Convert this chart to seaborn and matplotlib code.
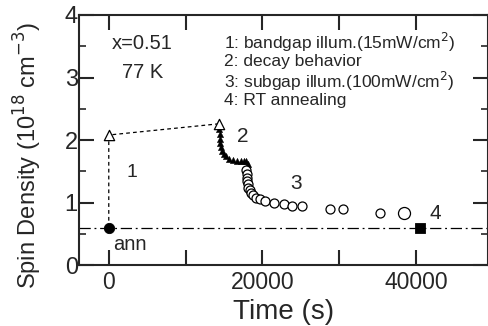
import numpy as np
import pandas as pd
import matplotlib
matplotlib.use("Agg")
import matplotlib.pyplot as plt
import seaborn as sns
from matplotlib.ticker import MultipleLocator, FixedLocator

sns.set_style("ticks")
plt.rcParams['font.family'] = ['Liberation Sans', 'DejaVu Sans']

# Data
ann_x, ann_y = [0], [0.6]
open_tri_x = [0, 14400]
open_tri_y = [2.08, 2.26]
decay_x = [14400, 14450, 14500, 14550, 14650, 14800, 15000, 15300, 15700, 16200, 16700, 17200, 17600, 17900, 18100]
decay_y = [2.18, 2.10, 2.02, 1.95, 1.89, 1.83, 1.78, 1.74, 1.70, 1.68, 1.67, 1.67, 1.67, 1.66, 1.62]
sub_x = [17900, 17950, 18000, 18050, 18100, 18200, 18350, 18550, 18800, 19200, 19700, 20300, 21500, 22800, 23900, 25200, 28800, 30500, 35300]
sub_y = [1.52, 1.45, 1.39, 1.34, 1.29, 1.24, 1.20, 1.16, 1.12, 1.08, 1.06, 1.03, 0.99, 0.97, 0.94, 0.94, 0.90, 0.89, 0.84]
big_x, big_y = [38400], [0.83]
rt_x, rt_y = [40500], [0.6]
baseline = 0.6

fig = plt.figure(figsize=(4.89, 3.26), dpi=100)
ax = fig.add_axes([0.162, 0.187, 0.836, 0.767])

# guide lines
ax.axhline(baseline, color='black', lw=0.9, ls=(0, (9, 3, 1.5, 3)), zorder=1)
ax.plot([ann_x[0], open_tri_x[0], open_tri_x[1]], [ann_y[0], open_tri_y[0], open_tri_y[1]],
        color='black', lw=0.9, ls=(0, (3, 2.5)), zorder=1)

sns.scatterplot(x=decay_x, y=decay_y, marker='^', s=20, color='black', edgecolor='black', ax=ax, zorder=3)
sns.scatterplot(x=sub_x, y=sub_y, marker='o', s=42, facecolor='white', edgecolor='black', linewidth=0.9, ax=ax, zorder=4)
sns.scatterplot(x=big_x, y=big_y, marker='o', s=75, facecolor='white', edgecolor='black', linewidth=0.9, ax=ax, zorder=4)
sns.scatterplot(x=open_tri_x, y=open_tri_y, marker='^', s=55, facecolor='white', edgecolor='black', linewidth=0.9, ax=ax, zorder=5)
sns.scatterplot(x=ann_x, y=ann_y, marker='o', s=55, color='black', edgecolor='black', ax=ax, zorder=5)
sns.scatterplot(x=rt_x, y=rt_y, marker='s', s=55, color='black', edgecolor='black', ax=ax, zorder=5)

ax.set_xlim(-3850, 49400)
ax.set_ylim(0, 4)
ax.xaxis.set_major_locator(FixedLocator([0, 10000, 20000, 30000, 40000]))
ax.set_xticklabels(['0', '', '20000', '', '40000'])
ax.yaxis.set_major_locator(MultipleLocator(1))
ax.yaxis.set_minor_locator(MultipleLocator(0.5))
ax.tick_params(axis='both', which='major', direction='in', length=11, width=1.5, pad=3,
               top=True, right=True)
ax.tick_params(axis='x', which='major', labelsize=16.5, pad=4)
ax.tick_params(axis='y', which='major', labelsize=17, pad=1)
ax.tick_params(axis='y', which='minor', direction='in', length=5, width=1.2, right=True)
for s in ax.spines.values():
    s.set_linewidth(1.5)

ax.set_xlabel('Time (s)', fontsize=20, labelpad=4)
ax.set_ylabel('Spin Density (10$^{18}$ cm$^{-3}$)', fontsize=17)
ax.yaxis.set_label_coords(-0.085, 0.44)

ax.text(4400, 3.55, 'x=0.51', fontsize=14.5, ha='center', va='center')
ax.text(4400, 3.08, '77 K', fontsize=14.5, ha='center', va='center')
leg = ['1: bandgap illum.(15mW/cm$^2$)', '2: decay behavior',
       '3: subgap illum.(100mW/cm$^2$)', '4: RT annealing']
for t, yy in zip(leg, [3.56, 3.25, 2.94, 2.63]):
    ax.text(15000, yy, t, fontsize=12.5, ha='left', va='center')

ax.text(3000, 1.48, '1', fontsize=14, ha='center', va='center')
ax.text(17500, 2.05, '2', fontsize=15, ha='center', va='center')
ax.text(24400, 1.3, '3', fontsize=15, ha='center', va='center')
ax.text(42500, 0.83, '4', fontsize=15, ha='center', va='center')
ax.text(2800, 0.33, 'ann', fontsize=14.5, ha='center', va='center')

fig.savefig('out.png', dpi=100)
